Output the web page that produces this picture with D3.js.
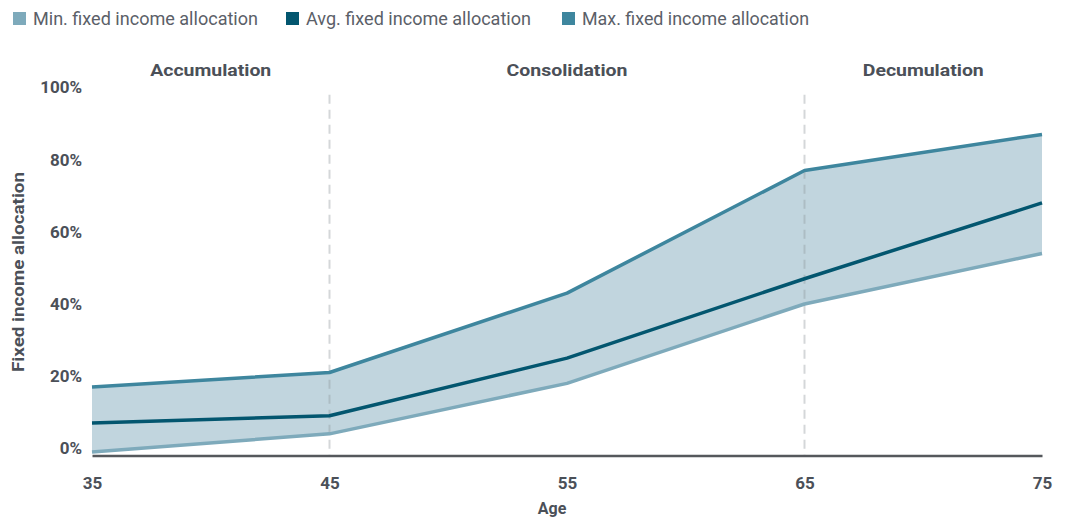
<!DOCTYPE html>
<html>
<head>
<meta charset="utf-8">
<script src="https://cdn.jsdelivr.net/npm/d3@7"></script>
<style>
  html, body { margin: 0; padding: 0; background: #fff; }
  svg { display: block; }
</style>
</head>
<body>
<svg id="chart" width="1067" height="524"></svg>
<script>
// Fixed income allocation glide path by age
const ages = [35, 45, 55, 65, 75];
const minAlloc = [-1, 4, 18, 40, 54];
const avgAlloc = [7, 9, 25, 47, 68];
const maxAlloc = [17, 21, 43, 77, 87];
const yTicks = [0, 20, 40, 60, 80, 100];
const phaseBreaks = [45, 65];
const phases = [
  { name: "Accumulation", at: 40 },
  { name: "Consolidation", at: 55 },
  { name: "Decumulation", at: 70 }
];
const seriesNames = ["Min. fixed income allocation", "Avg. fixed income allocation", "Max. fixed income allocation"];

const colors = {
  min: "#7eaabb",
  avg: "#03566f",
  max: "#3e869e",
  band: "#c1d5de",
  text: "#4b5058",
  legendText: "#5b6068"
};

const svg = d3.select("#chart");
const fontBold = "Roboto, 'DejaVu Sans', sans-serif";
const fontLegend = "'Liberation Sans Narrow', 'Roboto', sans-serif";

const x = d3.scaleLinear().domain([35, 75]).range([92, 1042]);
const y = d3.scaleLinear().domain([-2, 100]).range([455.5, 87.5]);

const rows = ages.map((a, i) => ({ age: a, min: minAlloc[i], avg: avgAlloc[i], max: maxAlloc[i] }));

// Band between min and max
svg.append("path")
  .datum(rows)
  .attr("fill", colors.band)
  .attr("d", d3.area().x(d => x(d.age)).y0(d => y(d.min)).y1(d => y(d.max)));

// Phase boundaries
svg.selectAll("line.phase")
  .data(phaseBreaks)
  .join("line")
  .attr("class", "phase")
  .attr("x1", d => x(d)).attr("x2", d => x(d))
  .attr("y1", y(98)).attr("y2", y(-2))
  .attr("stroke", "#8f969b")
  .attr("stroke-opacity", 0.38)
  .attr("stroke-width", 2)
  .attr("stroke-dasharray", "9,6");

// Series lines
const line = key => d3.line().x(d => x(d.age)).y(d => y(d[key]));
[["min", 3.5], ["max", 3.5], ["avg", 3.5]].forEach(([key, w]) => {
  svg.append("path")
    .datum(rows)
    .attr("fill", "none")
    .attr("stroke", colors[key])
    .attr("stroke-width", w)
    .attr("stroke-linejoin", "round")
    .attr("d", line(key));
});

// Y axis
const yAxis = svg.append("g")
  .attr("transform", `translate(${x(35)},0)`)
  .call(d3.axisLeft(y).tickValues(yTicks).tickSize(0).tickPadding(10).tickFormat(d => d + "%"));
yAxis.select(".domain").remove();
yAxis.selectAll("text")
  .attr("fill", colors.text)
  .style("font-family", fontBold)
  .style("font-weight", "bold")
  .style("font-size", "17px");

// X axis
const xAxis = svg.append("g")
  .attr("transform", `translate(0,${y(-2)})`)
  .call(d3.axisBottom(x).tickValues(ages).tickSize(0).tickPadding(21).tickFormat(d3.format("d")));
xAxis.select(".domain")
  .attr("stroke", "#55585c")
  .attr("stroke-width", 2.5);
xAxis.selectAll("text")
  .attr("fill", colors.text)
  .style("font-family", fontBold)
  .style("font-weight", "bold")
  .style("font-size", "17px");

// Axis titles
svg.append("text")
  .attr("x", 552).attr("y", 514)
  .attr("text-anchor", "middle")
  .attr("fill", colors.text)
  .style("font-family", fontBold)
  .style("font-weight", "bold")
  .style("font-size", "16px")
  .text("Age");

svg.append("text")
  .attr("transform", "translate(24,272) rotate(-90)")
  .attr("text-anchor", "middle")
  .attr("fill", colors.text)
  .style("font-family", fontBold)
  .style("font-weight", "bold")
  .style("font-size", "16px")
  .attr("textLength", 200)
  .attr("lengthAdjust", "spacingAndGlyphs")
  .text("Fixed income allocation");

// Phase labels
svg.selectAll("text.phase-label")
  .data(phases)
  .join("text")
  .attr("class", "phase-label")
  .attr("x", d => x(d.at))
  .attr("y", 76)
  .attr("text-anchor", "middle")
  .attr("fill", colors.text)
  .style("font-family", fontBold)
  .style("font-weight", "bold")
  .style("font-size", "17px")
  .attr("textLength", 121)
  .attr("lengthAdjust", "spacingAndGlyphs")
  .text(d => d.name);

// Legend
const legendItems = [
  { label: seriesNames[0], color: colors.min, x: 13, w: 225 },
  { label: seriesNames[1], color: colors.avg, x: 286, w: 225 },
  { label: seriesNames[2], color: colors.max, x: 562, w: 227 }
];
const lg = svg.selectAll("g.legend")
  .data(legendItems)
  .join("g")
  .attr("class", "legend")
  .attr("transform", d => `translate(${d.x},12)`);
lg.append("rect")
  .attr("width", 13).attr("height", 13)
  .attr("fill", d => d.color);
lg.append("text")
  .attr("x", 20).attr("y", 13)
  .attr("fill", colors.legendText)
  .style("font-family", fontLegend)
  .style("font-size", "19px")
  .attr("textLength", d => d.w)
  .attr("lengthAdjust", "spacingAndGlyphs")
  .text(d => d.label);
</script>
</body>
</html>
